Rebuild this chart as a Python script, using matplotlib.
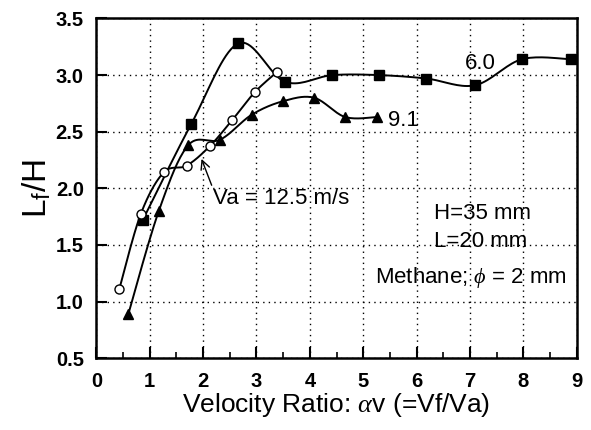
import numpy as np
import matplotlib
matplotlib.use('Agg')
from matplotlib import pyplot as plt
from matplotlib.ticker import MultipleLocator

plt.rcParams['font.family'] = ['Liberation Sans', 'DejaVu Sans']
plt.rcParams['mathtext.fontset'] = 'custom'
plt.rcParams['mathtext.rm'] = 'Liberation Sans'
plt.rcParams['mathtext.it'] = 'Liberation Serif:italic'

# Va = 6.0 m/s (squares)
x_60 = [0.87, 1.78, 2.66, 3.54, 4.42, 5.30, 6.18, 7.09, 7.97, 8.89]
y_60 = [1.72, 2.57, 3.28, 2.94, 3.00, 3.00, 2.97, 2.91, 3.14, 3.14]

# Va = 9.1 m/s (triangles)
x_91 = [0.60, 1.17, 1.72, 2.32, 2.91, 3.50, 4.08, 4.66, 5.26]
y_91 = [0.89, 1.80, 2.38, 2.43, 2.65, 2.77, 2.80, 2.63, 2.63]

# Va = 12.5 m/s (open circles)
x_125 = [0.43, 0.83, 1.26, 1.69, 2.12, 2.54, 2.97, 3.39]
y_125 = [1.11, 1.77, 2.14, 2.20, 2.37, 2.60, 2.85, 3.03]


# catmull-rom pour lisser le trait entre les points
def smooth(x, y, n=20):
    p = np.column_stack([x, y])
    p = np.vstack([p[0], p, p[-1]])
    out = []
    for i in range(1, len(p) - 2):
        p0, p1, p2, p3 = p[i - 1], p[i], p[i + 1], p[i + 2]
        t = np.linspace(0, 1, n)[:, None]
        seg = 0.5 * ((2 * p1) + (-p0 + p2) * t +
                     (2 * p0 - 5 * p1 + 4 * p2 - p3) * t ** 2 +
                     (-p0 + 3 * p1 - 3 * p2 + p3) * t ** 3)
        out.append(seg)
    out = np.vstack(out)
    return out[:, 0], out[:, 1]


fig = plt.figure(figsize=(5.91, 4.30), dpi=100)
ax = fig.add_axes([0.163, 0.167, 0.813, 0.790])

for xs, ys, mk, fc in [(x_60, y_60, 's', 'black'),
                       (x_91, y_91, '^', 'black'),
                       (x_125, y_125, 'o', 'white')]:
    sx, sy = smooth(xs, ys)
    ax.plot(sx, sy, color='black', lw=1.4, zorder=3)
    ax.plot(xs, ys, linestyle='none', marker=mk, ms=6.5, mfc=fc,
            mec='black', mew=1.0, zorder=4)

ax.set_xlim(0, 9)
ax.set_ylim(0.5, 3.5)
ax.xaxis.set_major_locator(MultipleLocator(1))
ax.xaxis.set_minor_locator(MultipleLocator(0.5))
ax.yaxis.set_major_locator(MultipleLocator(0.5))
ax.set_yticklabels([f'{v:.1f}' for v in ax.get_yticks()])
ax.tick_params(which='major', direction='in', length=8, width=1.5,
               labelsize=14.5)
ax.tick_params(axis='x', which='major', pad=10)
ax.tick_params(axis='y', which='major', pad=9)
ax.tick_params(which='minor', direction='in', length=4, width=1.2)
for lab in ax.get_xticklabels() + ax.get_yticklabels():
    lab.set_fontweight('bold')
for s in ax.spines.values():
    s.set_linewidth(1.8)
ax.grid(True, which='major', color='black', linestyle=(0, (1, 3)), lw=1.0)

ax.set_xlabel(r'Velocity Ratio: $\alpha$v (=Vf/Va)', fontsize=19, labelpad=0)
ax.set_ylabel(r'L$_\mathregular{f}$/H', fontsize=24, labelpad=2)

ax.text(7.2, 3.10, '6.0', fontsize=16, ha='center', va='center')
ax.text(5.47, 2.60, '9.1', fontsize=16, ha='left', va='center')
ax.annotate('Va = 12.5 m/s', xy=(1.97, 2.26), xytext=(2.18, 1.91),
            fontsize=16, ha='left', va='center',
            arrowprops=dict(arrowstyle='->', color='black', lw=1.0,
                            shrinkA=0, shrinkB=0,
                            relpos=(0.0, 1.0)))
ax.text(6.33, 1.78, 'H=35 mm', fontsize=16, ha='left', va='center')
ax.text(6.33, 1.53, 'L=20 mm', fontsize=16, ha='left', va='center')
ax.text(5.22, 1.21, r'Methane; $\it{\phi}$ = 2 mm', fontsize=16,
        ha='left', va='center')

fig.savefig('out.png', dpi=100)
